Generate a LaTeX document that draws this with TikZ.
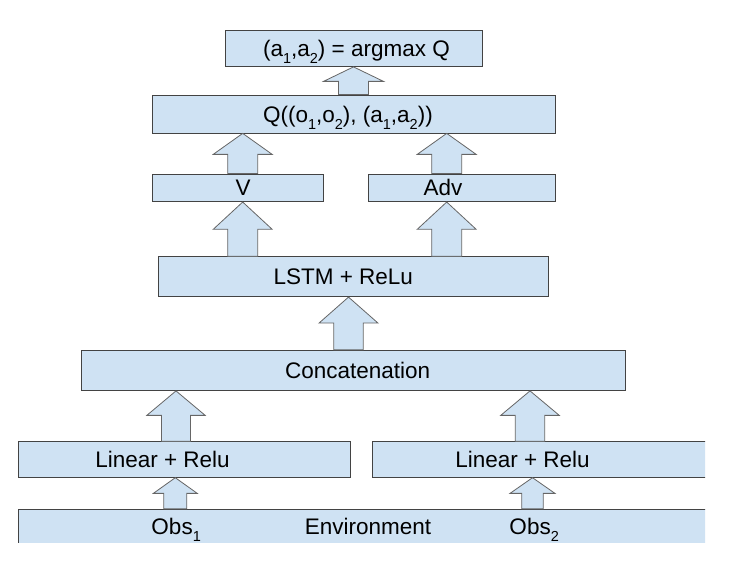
\documentclass[tikz,border=0pt]{standalone}
\usepackage{fontspec}
\setmainfont{Liberation Sans}
\usetikzlibrary{calc}
\definecolor{boxfill}{HTML}{CFE2F3}
\definecolor{boxline}{HTML}{434343}
\definecolor{arrowline}{HTML}{666666}
\newcommand{\sub}[1]{\raisebox{-0.32em}{\fontsize{14.5}{14.5}\selectfont #1}}
% block arrow: x, lower node, upper node, head length, shaft half width, head half width
\newcommand{\blockup}[6]{%
  \draw[fatarrow] let \p1=(#2.north), \p2=(#3.south) in
    (#1pt-#5pt,\y1) -- (#1pt-#5pt,\y2-#4pt) -- (#1pt-#6pt,\y2-#4pt) -- (#1pt,\y2)
    -- (#1pt+#6pt,\y2-#4pt) -- (#1pt+#5pt,\y2-#4pt) -- (#1pt+#5pt,\y1) -- cycle;}
\tikzset{
  layer/.style={draw=boxline, fill=boxfill, line width=0.8pt, inner sep=0pt},
  txt/.style={font=\fontsize{22.5}{25}\selectfont, text height=16.2pt, text depth=0pt, inner sep=0pt, text=black},
  fatarrow/.style={draw=arrowline, fill=boxfill, line width=0.8pt, line join=miter}
}
\begin{document}
\begin{tikzpicture}[x=1pt,y=1pt]
\useasboundingbox (0,0) rectangle (735,561);
\begin{scope}
\clip (0,18.3) rectangle (705,561);

% layers
\node[layer, minimum width=257, minimum height=36,
  label={[txt,xshift=3pt]center:{(a\sub{1},a\sub{2}) = argmax Q}}] (argmax) at (353.5,512.5) {};
\node[layer, minimum width=402.3, minimum height=38,
  label={[txt,xshift=-6pt]center:{Q((o\sub{1},o\sub{2}), (a\sub{1},a\sub{2}))}}] (q) at (353.9,447) {};
\node[layer, minimum width=170.6, minimum height=27.7,
  label={[txt,xshift=5pt]center:V}] (v) at (238,373.2) {};
\node[layer, minimum width=186.7, minimum height=27.7,
  label={[txt,xshift=-18.7pt]center:Adv}] (adv) at (461.7,373.2) {};
\node[layer, minimum width=390, minimum height=40,
  label={[txt,xshift=-10pt]center:LSTM + ReLu}] (lstm) at (353.3,284.3) {};
\node[layer, minimum width=544, minimum height=40.2,
  label={[txt,xshift=4pt]center:Concatenation}] (concat) at (353.7,190.6) {};
\node[layer, minimum width=331.7, minimum height=35.6,
  label={[txt,xshift=-21.7pt]center:Linear + Relu}] (linl) at (184.2,101.5) {};
\node[layer, minimum width=367.7, minimum height=35.6,
  label={[txt,xshift=-33.65pt]center:Linear + Relu}] (linr) at (556.15,101.5) {};
\node[layer, minimum width=721.7, minimum height=42.7,
  label={[txt,xshift=-203pt,yshift=4.15pt]center:Obs\sub{1}},
  label={[txt,xshift=-11.2pt,yshift=4.15pt]center:Environment},
  label={[txt,xshift=155pt,yshift=4.15pt]center:Obs\sub{2}}] (env) at (379.15,30.35) {};

% arrows
\blockup{353.5}{q}{argmax}{14.5}{15}{30}
\blockup{242.7}{v}{q}{21}{15}{29.5}
\blockup{446.7}{adv}{q}{21}{15}{29.5}
\blockup{242.7}{lstm}{v}{27.3}{15}{29.5}
\blockup{446.7}{lstm}{adv}{27.3}{15}{29.5}
\blockup{348.5}{concat}{lstm}{26}{14.7}{29.5}
\blockup{176}{linl}{concat}{24.5}{14.5}{29.2}
\blockup{530}{linr}{concat}{24.5}{14.7}{29.3}
\blockup{175.3}{env}{linl}{15.7}{11.5}{22}
\blockup{532.5}{env}{linr}{15.7}{10.8}{22.5}
\end{scope}
\end{tikzpicture}
\end{document}
